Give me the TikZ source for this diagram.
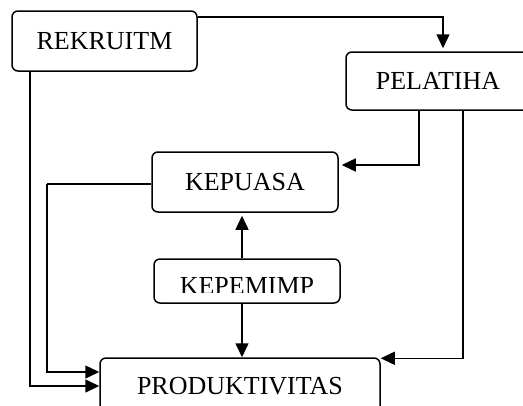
\documentclass[tikz,border=0pt]{standalone}
\usepackage{fontspec}
\setmainfont{Liberation Serif}
\usepackage{tikz}
\usetikzlibrary{arrows.meta}

\tikzset{
	hv/.style={to path={-| (\tikztotarget)}},
	vh/.style={to path={|- (\tikztotarget)}}
}

\begin{document}
\begin{tikzpicture}[x=1pt, y=-1pt]
	\useasboundingbox (0,0) rectangle (523,405);
	\clip (0,0) rectangle (523,405);
	\begin{scope}[every node/.style = {rectangle, rounded corners=6pt, draw,
		line width=1.5pt, inner sep=0pt, font=\fontsize{26}{30}\selectfont}]
		\node[minimum width=185pt, minimum height=60pt] (rek) at (104.5,41) {REKRUITM};
		\node[minimum width=184pt, minimum height=58pt] (pel) at (438,81) {PELATIHA};
		\node[minimum width=186pt, minimum height=60pt] (kep) at (245,182) {KEPUASA};
		\node[minimum width=186pt, minimum height=44pt] (kpm) at (247,281) {};
		\node[minimum width=280pt, minimum height=56pt] (pro) at (240,386) {PRODUKTIVITAS};
	\end{scope}
	% label of the leadership box is cut off at the bottom
	\begin{scope}
		\clip (150,255) rectangle (345,292);
		\node[anchor=base, inner sep=0pt, font=\fontsize{26}{30}\selectfont] (kpmtext) at (247,294.5) {KEPEMIMP};
	\end{scope}
	\coordinate (kbend) at (47,184);
	\begin{scope}[>={Triangle[length=14pt, width=13pt, black]},
			every edge/.style={draw=black, line width=1.5pt}]
		\path [->] ([yshift=24pt]rek.east) edge[hv, shorten >=3pt] ([xshift=5pt]pel.north);
		\path [->] ([xshift=-19pt]pel.south) edge[vh, shorten >=3pt] ([yshift=17pt]kep.east);
		\path [->] ([xshift=25pt]pel.south) edge[vh] ([yshift=-1pt]pro.north east);
		\path [-] (kep.west |- kbend) edge (kbend);
		\path [->] (kbend) edge[vh] ([yshift=14pt]pro.west);
		\path [->] ([xshift=-74.5pt]rek.south) edge[vh] (pro.west);
		\path [->] ([xshift=-5pt]kpm.north) edge[shorten >=3pt] ([xshift=-5pt]kpm.north |- kep.south);
		\path [->] ([xshift=-5pt]kpm.south) edge ([xshift=-5pt]kpm.south |- pro.north);
	\end{scope}
\end{tikzpicture}
\end{document}
